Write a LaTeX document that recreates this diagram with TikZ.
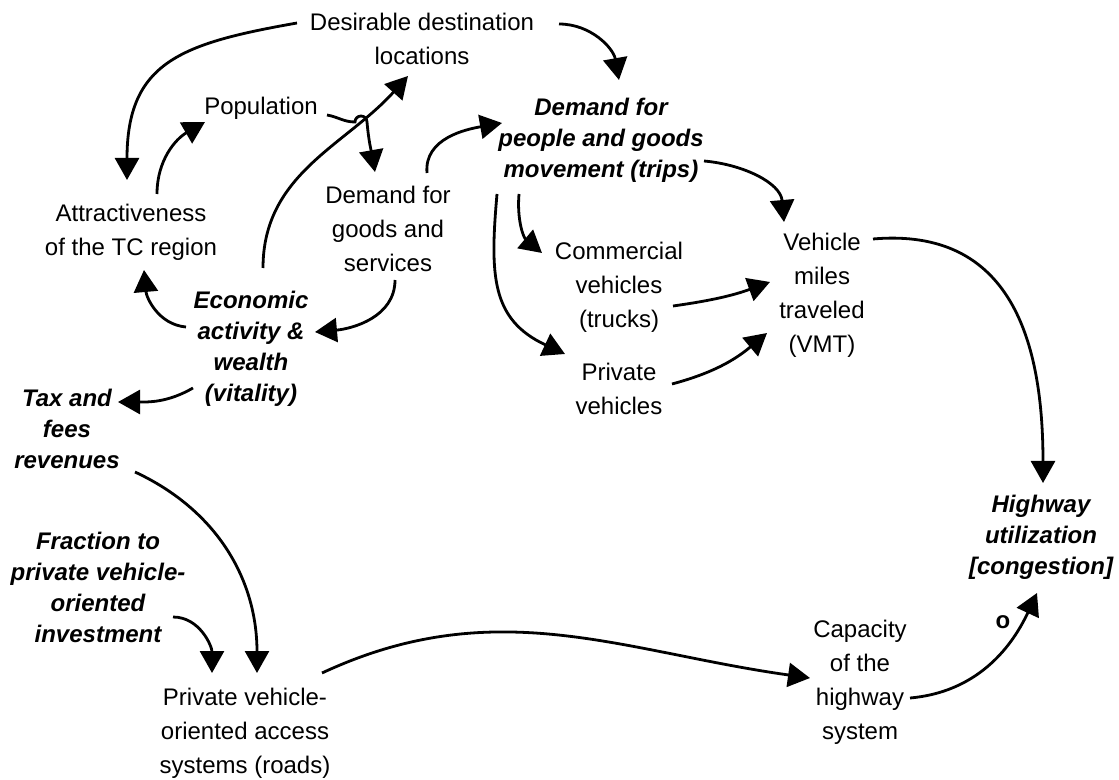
\documentclass[tikz,border=0pt]{standalone}
\usepackage{fontspec}
\setmainfont{Liberation Sans}
\usetikzlibrary{arrows.meta}
\usetikzlibrary{calc}

\begin{document}
\begin{tikzpicture}[x=0.5pt,y=0.5pt]
\tikzstyle{var} = [align=center, inner sep=0pt, font=\fontsize{12}{17}\selectfont]
\tikzstyle{key} = [align=center, inner sep=0pt, font=\fontsize{12}{15.5}\selectfont\bfseries\itshape]
\tikzstyle{link} = [line width=1.4pt, -{Triangle[length=11pt,width=12pt]}]
\useasboundingbox (0,0) rectangle (1119,-780);

\node[var](des) at (422,-39){Desirable destination\\locations};
\node[var](pop) at (261,-108){Population};
\node[var](attr) at (131,-232){Attractiveness\\of the TC region};
\node[var](dgs) at (388,-229){Demand for\\goods and\\services};
\node[key](econ) at (251,-349){Economic\\activity \&\\wealth\\(vitality)};
\node[key](tax) at (67,-429){Tax and\\fees\\revenues};
\node[key](frac) at (98,-587){Fraction to\\private vehicle-\\oriented\\investment};
\node[var](pvo) at (245,-733){Private vehicle-\\oriented access\\systems (roads)};
\node[key](dpg) at (601,-140){Demand for\\people and goods\\movement (trips)};
\node[var](com) at (619,-287){Commercial\\vehicles\\(trucks)};
\node[var](prv) at (619,-389){Private\\vehicles};
\node[var](vmt) at (822,-295){Vehicle\\miles\\traveled\\(VMT)};
\node[key](hwy) at (1041,-537){Highway\\utilization\\{[congestion]}};
\node[var](cap) at (860,-682){Capacity\\of the\\highway\\system};

% left part
\draw[link] ($(des)+(-125,16)$) to[out=190,in=90,looseness=1.3] ($(attr)+(-4,52)$);
\draw[link] ($(attr)+(26,38)$) to[out=90,in=210] ($(pop)+(-56,-14)$);
\draw[link] ($(pop)+(66,-7)$) to[out=-10,in=180] ++(28,-7) arc[start angle=180,end angle=0,radius=6] to[out=-85,in=100] ($(dgs)+(-13,57)$);
\draw[link] ($(econ)+(12,81)$) to[out=90,in=228] ($(des)+(-14,-37)$);
\draw[link] ($(dgs)+(39,56)$) to[out=95,in=190] ($(dpg)+(-99,17)$);
\draw[link] ($(dgs)+(7,-51)$) to[out=-90,in=5] ($(econ)+(64,17)$);
\draw[link] ($(econ)+(-65,22)$) to[out=175,in=-85] ($(attr)+(13,-38)$);
\draw[link] ($(econ)+(-58,-39)$) to[out=210,in=0] ($(tax)+(51,27)$);
\draw[link] ($(tax)+(68,-43)$) to[out=-25,in=90] ($(pvo)+(12,60)$);
\draw[link] ($(frac)+(75,-30)$) to[out=0,in=90] ($(pvo)+(-33,60)$);
\draw[link] ($(pvo)+(77,60)$) to[out=25,in=172] ($(cap)+(-50,4)$);
% right part
\draw[link] ($(des)+(137,15)$) to[out=0,in=100] ($(dpg)+(18,60)$);
\draw[link] ($(dpg)+(-104,-54)$) to[out=-95,in=155,looseness=1.2] ($(prv)+(-54,35)$);
\draw[link] ($(dpg)+(-82,-54)$) to[out=-95,in=140] ($(com)+(-77,34)$);
\draw[link] ($(dpg)+(103,-21)$) to[out=-5,in=95] ($(vmt)+(-38,73)$);
\draw[link] ($(com)+(54,-19)$) to[out=8,in=200] ($(vmt)+(-52,13)$);
\draw[link] ($(prv)+(53,5)$) to[out=15,in=220] ($(vmt)+(-55,-38)$);
\draw[link] ($(vmt)+(51,56)$) to[out=5,in=90,looseness=1.2] ($(hwy)+(2,54)$);
\draw[link] ($(cap)+(50,-16)$) to[out=5,in=245] ($(hwy)+(-4,-56)$);
\node[font=\fontsize{12}{14}\selectfont\bfseries](o) at ($(hwy)+(-38,-85)$){o}; %negative link
\end{tikzpicture}
\end{document}
